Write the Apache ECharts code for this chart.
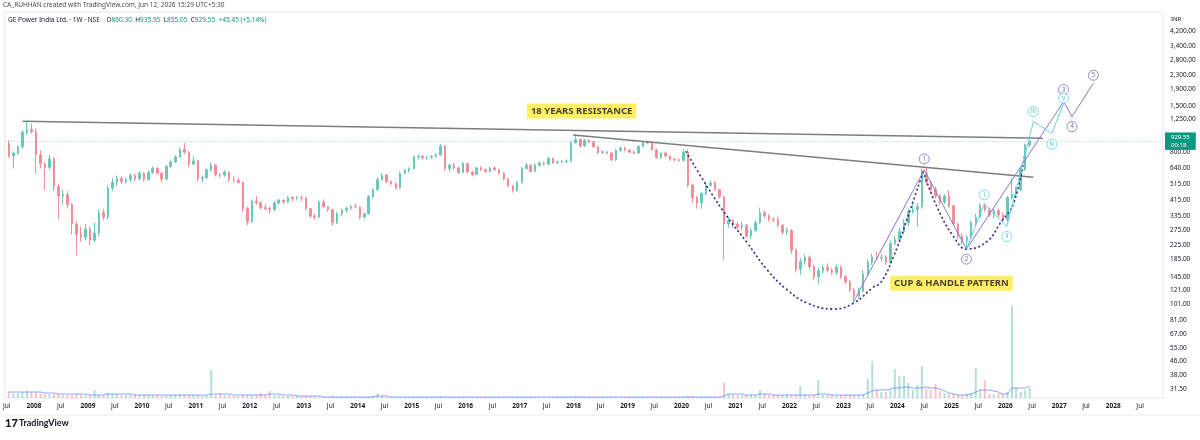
<!DOCTYPE html>
<html><head><meta charset="utf-8">
<script src="https://cdn.jsdelivr.net/npm/echarts@6/dist/echarts.min.js"></script>
<style>html,body{margin:0;padding:0;background:#fff}#c{width:1200px;height:440px}</style>
</head><body><div id="c"></div>
<script>
// ---- Monthly OHLC (INR) ----
const months = [
'2007-07','2007-08','2007-09','2007-10','2007-11','2007-12',
'2008-01','2008-02','2008-03','2008-04','2008-05','2008-06','2008-07','2008-08','2008-09','2008-10','2008-11','2008-12',
'2009-01','2009-02','2009-03','2009-04','2009-05','2009-06','2009-07','2009-08','2009-09','2009-10','2009-11','2009-12',
'2010-01','2010-02','2010-03','2010-04','2010-05','2010-06','2010-07','2010-08','2010-09','2010-10','2010-11','2010-12',
'2011-01','2011-02','2011-03','2011-04','2011-05','2011-06','2011-07','2011-08','2011-09','2011-10','2011-11','2011-12',
'2012-01','2012-02','2012-03','2012-04','2012-05','2012-06','2012-07','2012-08','2012-09','2012-10','2012-11','2012-12',
'2013-01','2013-02','2013-03','2013-04','2013-05','2013-06','2013-07','2013-08','2013-09','2013-10','2013-11','2013-12',
'2014-01','2014-02','2014-03','2014-04','2014-05','2014-06','2014-07','2014-08','2014-09','2014-10','2014-11','2014-12',
'2015-01','2015-02','2015-03','2015-04','2015-05','2015-06','2015-07','2015-08','2015-09','2015-10','2015-11','2015-12',
'2016-01','2016-02','2016-03','2016-04','2016-05','2016-06','2016-07','2016-08','2016-09','2016-10','2016-11','2016-12',
'2017-01','2017-02','2017-03','2017-04','2017-05','2017-06','2017-07','2017-08','2017-09','2017-10','2017-11','2017-12',
'2018-01','2018-02','2018-03','2018-04','2018-05','2018-06','2018-07','2018-08','2018-09','2018-10','2018-11','2018-12',
'2019-01','2019-02','2019-03','2019-04','2019-05','2019-06','2019-07','2019-08','2019-09','2019-10','2019-11','2019-12',
'2020-01','2020-02','2020-03','2020-04','2020-05','2020-06','2020-07','2020-08','2020-09','2020-10','2020-11','2020-12',
'2021-01','2021-02','2021-03','2021-04','2021-05','2021-06','2021-07','2021-08','2021-09','2021-10','2021-11','2021-12',
'2022-01','2022-02','2022-03','2022-04','2022-05','2022-06','2022-07','2022-08','2022-09','2022-10','2022-11','2022-12',
'2023-01','2023-02','2023-03','2023-04','2023-05','2023-06','2023-07','2023-08','2023-09','2023-10','2023-11','2023-12',
'2024-01','2024-02','2024-03','2024-04','2024-05','2024-06','2024-07','2024-08','2024-09','2024-10','2024-11','2024-12',
'2025-01','2025-02','2025-03','2025-04','2025-05','2025-06','2025-07','2025-08','2025-09','2025-10','2025-11','2025-12',
'2026-01','2026-02','2026-03','2026-04','2026-05','2026-06'
];
const open = [
900,760,790,860,1050,1090,
1060,770,680,650,730,500,440,450,390,300,260,250,
280,240,265,350,330,490,530,560,535,550,580,555,
600,550,605,640,600,555,660,700,750,830,800,680,
710,560,565,630,670,590,585,610,550,545,530,370,
310,410,400,375,370,365,400,415,405,430,425,430,
428,370,335,330,405,380,365,305,345,362,372,380,
378,330,345,435,480,550,585,535,520,490,600,625,
640,750,755,740,745,755,770,870,640,670,645,605,
685,610,590,645,630,615,645,630,600,555,505,475,
530,640,670,615,670,690,680,735,695,700,705,710,
910,950,870,940,920,860,795,805,790,720,820,845,
825,800,790,865,920,905,825,745,790,760,725,720,
715,800,510,430,400,455,510,525,480,435,300,315,
300,288,295,255,275,305,350,335,320,318,295,268,
275,210,162,180,190,168,146,158,166,160,155,166,
146,136,122,112,120,152,178,192,188,190,178,230,
242,270,305,355,365,380,600,530,480,440,405,440,
385,300,255,240,250,305,330,385,365,340,360,340,
320,430,450,480,630,884.1
];
const high = [
940,810,880,1080,1220,1180,
1100,820,700,770,750,520,480,470,400,310,290,300,
290,305,365,370,510,560,580,575,565,600,595,615,
610,625,660,650,610,670,715,770,845,910,810,750,
720,580,640,690,680,600,625,615,575,560,535,380,
420,440,410,395,380,410,425,420,440,440,440,445,
435,375,345,415,420,385,370,355,370,380,390,395,
380,350,445,490,570,600,595,545,530,615,640,650,
765,775,770,760,770,790,895,880,685,690,655,700,
690,620,655,660,640,655,660,640,610,565,510,540,
655,690,680,685,705,705,750,745,715,720,725,930,
1020,965,960,955,935,870,820,815,800,835,865,860,
835,815,880,935,940,915,835,800,805,770,740,735,
835,830,520,440,465,525,545,540,485,440,330,320,
310,310,300,285,315,375,360,345,330,330,300,285,
280,215,188,198,195,172,165,172,175,165,172,170,
150,140,125,125,160,185,200,205,200,195,240,255,
285,320,370,395,400,640,650,545,500,450,450,475,
390,305,265,260,315,345,400,400,375,370,370,350,
440,560,500,650,900,935.95
];
const low = [
740,640,770,840,1010,1030,
600,640,480,630,470,320,390,370,260,195,235,240,
225,235,255,315,320,470,500,515,520,530,535,545,
535,540,595,590,530,545,645,690,740,780,650,670,
540,530,555,615,575,565,570,535,530,520,355,295,
305,390,365,360,345,358,390,395,400,410,415,410,
360,325,320,325,375,355,292,300,335,350,365,370,
320,322,340,425,470,540,525,510,480,485,590,605,
630,725,725,720,730,740,760,620,615,630,595,600,
600,575,585,620,600,605,620,590,545,495,460,465,
520,630,605,610,655,665,665,680,680,685,690,700,
900,850,860,905,850,780,780,775,705,710,805,810,
790,775,785,855,890,815,730,730,745,710,705,700,
705,495,400,370,370,445,500,470,425,184,285,285,
280,275,248,245,270,300,325,310,308,288,260,258,
200,155,150,172,160,140,132,152,155,150,150,142,
132,118,102,108,118,148,172,182,180,172,175,225,
235,260,290,345,290,370,510,465,425,390,395,375,
295,245,225,212,245,295,325,355,330,325,330,305,
310,420,430,470,620,855.05
];
const close = [
760,790,860,1050,1090,1060,
770,680,650,730,500,440,450,390,300,260,250,280,
240,265,350,330,490,530,560,535,550,580,555,600,
550,605,640,600,555,660,700,750,830,800,680,710,
560,565,630,670,590,585,610,550,545,530,370,310,
410,400,375,370,365,400,415,405,430,425,430,428,
370,335,330,405,380,365,305,345,362,372,380,378,
330,345,435,480,550,585,535,520,490,600,625,640,
750,755,740,745,755,770,870,640,670,645,605,685,
610,590,645,630,615,645,630,600,555,505,475,530,
640,670,615,670,690,680,735,695,700,705,710,910,
950,870,940,920,860,795,805,790,720,820,845,825,
800,790,865,920,905,825,745,790,760,725,720,715,
800,510,430,400,455,510,525,480,435,300,315,300,
288,295,255,275,305,350,335,320,318,295,268,275,
210,162,180,190,168,146,158,166,160,155,166,146,
136,122,112,120,152,178,192,188,190,178,230,242,
270,305,355,365,380,600,530,480,440,405,440,385,
300,255,240,250,305,330,385,365,340,360,340,320,
430,450,480,630,884.1,929.55
];
// relative volume (estimated bar heights) and its moving-average line
const volume = [
6,5,5,6,7,6,
6,5,4,4,4,4,3,3,3,4,3,3,
3,8,3,3,5,4,4,3,3,3,3,3,
3,3,3,3,2,3,3,3,4,3,3,3,
3,2,3,28,3,5,3,3,2,2,3,3,
3,3,5,3,7,3,3,2,2,2,2,2,
2,2,2,1,1,1,2,1,1,1,1,1,
1,1,1,2,5,2,1,1,1,1,1,1,
1,1,1,1,1,1,2,1,1,1,1,1,
1,1,1,1,1,1,1,1,1,1,1,1,
1,1,1,1,1,1,1,1,1,1,1,1,
2,1,1,1,1,1,1,1,1,1,1,1,
1,1,1,1,1,1,1,1,1,1,1,1,
1,2,2,1,1,1,1,1,1,15,4,3,
3,3,3,3,3,8,4,3,3,3,3,3,
3,3,12,3,3,3,18,3,3,3,3,3,
3,3,3,3,4,19,37,8,6,6,8,29,
22,22,15,8,13,32,9,8,14,7,5,4,
4,3,3,4,5,30,8,18,4,4,5,4,
6,92,10,6,8,10
];
const volumeMA = [
6,6,6,6,6,6,
6,6,5,5,5,4,4,4,4,4,4,4,
3,3,3,3,4,4,4,4,4,4,3,3,
3,3,3,3,3,3,3,3,3,3,3,3,
3,3,3,4,4,4,4,4,3,3,3,3,
3,3,3,3,4,4,4,3,3,3,2,2,
2,2,2,2,1,1,1,1,1,1,1,1,
1,1,1,1,2,2,2,1,1,1,1,1,
1,1,1,1,1,1,1,1,1,1,1,1,
1,1,1,1,1,1,1,1,1,1,1,1,
1,1,1,1,1,1,1,1,1,1,1,1,
1,1,1,1,1,1,1,1,1,1,1,1,
1,1,1,1,1,1,1,1,1,1,1,1,
1,1,1,1,1,1,1,1,1,2,4,4,
4,4,3,3,3,4,4,4,3,3,3,3,
3,3,3,3,3,3,4,4,4,3,3,3,
3,3,3,3,3,5,7,8,8,8,9,10,
10,11,11,10,10,10,11,10,10,9,7,5,
4,3,3,3,4,6,8,8,8,7,6,4,
4,10,10,10,10,12
];
// weekly legend values
const lastWeek = {open: 860.30, high: 935.95, low: 855.05, close: 929.55, change: 45.45, pct: 5.14};

// axis ticks
const priceTicks = [4200,3400,2800,2300,1900,1500,1250,1000,800,640,515,415,335,275,225,185,145,121,101,81,67,55,46,38,31.5];
const timeTicks = ['2007-07-01',
'2008-01-01','2008-07-01','2009-01-01','2009-07-01','2010-01-01','2010-07-01','2011-01-01','2011-07-01',
'2012-01-01','2012-07-01','2013-01-01','2013-07-01','2014-01-01','2014-07-01','2015-01-01','2015-07-01',
'2016-01-01','2016-07-01','2017-01-01','2017-07-01','2018-01-01','2018-07-01','2019-01-01','2019-07-01',
'2020-01-01','2020-07-01','2021-01-01','2021-07-01','2022-01-01','2022-07-01','2023-01-01','2023-07-01',
'2024-01-01','2024-07-01','2025-01-01','2025-07-01','2026-01-01','2026-07-01','2027-01-01','2027-07-01',
'2028-01-01','2028-07-01'];

// drawings (date, price)
const resistanceLine = [['2007-10-15',1220],['2026-09-12',968]];
const trendLine = [['2017-12-28',1012],['2026-07-09',568]];
const cupCurve = [['2020-02-02',803],['2020-06-24',498],['2020-11-06',331],['2021-03-21',232],['2021-08-04',160],
  ['2021-12-17',122],['2022-05-01',102],['2022-10-27',94],['2023-03-11',102],['2023-07-24',127],['2023-09-09',134],
  ['2023-12-06',192],['2024-03-28',364],['2024-06-24',613]];
const handleCurve = [['2024-06-24',613],['2024-09-25',380],['2025-01-15',253],['2025-04-16',213],['2025-08-29',236],
  ['2025-11-27',303],['2026-02-26',399],['2026-05-10',760]];
const majorWave = [['2023-03-11',104],['2024-07-01',628],['2025-04-13',213],['2027-01-30',1594],['2027-03-28',1300],['2027-08-20',2049]];
const majorWaveNames = ['1','2','3','4','5'];
const minorWave = [['2025-04-13',213],['2025-08-11',395],['2026-01-11',290],['2026-07-10',1214],['2026-11-12',1036],['2027-01-30',1560]];
const minorWaveNames = ['i','ii','iii','iv','v'];
const notes = [
  {text: '18 YEARS RESISTANCE', at: ['2018-02-24', 1405]},
  {text: 'CUP & HANDLE PATTERN', at: ['2025-01-01', 133.5]}
];

// ---- styles ----
const UP = '#6cc8b9', DOWN = '#f38d98';
const FONT = '"Noto Sans", Roboto, sans-serif';
const majorOffsets = [-11, 10, -12, 10, -8];
const minorOffsets = [-9, 10, -10, 11, -5];

const ts = s => Date.parse(s);
const candleData = months.map((m, i) => [ts(m + '-15'), open[i], close[i], low[i], high[i]]);
const volData = months.map((m, i) => ({
  value: [ts(m + '-15'), volume[i]],
  itemStyle: {color: close[i] >= open[i] ? 'rgba(8,153,129,0.3)' : 'rgba(242,54,69,0.3)'}
}));
const volMAData = months.map((m, i) => [ts(m + '-15'), volumeMA[i]]);
const pts = arr => arr.map(p => [ts(p[0]), p[1]]);
const lastClose = close[close.length - 1];

function waveLabels(wave, names, offsets, color, border) {
  return wave.slice(1).map((p, i) => ({
    value: [ts(p[0]), p[1]],
    symbolOffset: [0, offsets[i]],
    label: {show: true, position: 'inside', formatter: names[i], color: color, fontSize: 6.5, fontFamily: FONT},
    itemStyle: {color: '#fff', borderColor: border, borderWidth: 1}
  }));
}

const chart = echarts.init(document.getElementById('c'), null, {renderer: 'canvas'});
const fmtPrice = v => Number(v).toLocaleString('en-US', {minimumFractionDigits: 2, maximumFractionDigits: 2});

chart.setOption({
  animation: false,
  backgroundColor: '#fff',
  textStyle: {fontFamily: FONT},
  grid: {left: 4, right: 37, top: 12, bottom: 42, show: true, borderColor: '#e6e8ee', borderWidth: 1},
  xAxis: {
    type: 'value',
    min: ts('2007-06-18'), max: ts('2028-12-03'),
    splitLine: {show: false},
    axisLine: {show: false},
    axisTick: {show: false},
    axisLabel: {
      customValues: timeTicks.map(ts),
      margin: 5,
      fontSize: 6.5,
      color: '#131722',
      formatter: v => {
        const d = new Date(v);
        return d.getUTCMonth() === 0 ? '{y|' + d.getUTCFullYear() + '}' : '{m|Jul}';
      },
      rich: {
        y: {fontSize: 6.5, fontWeight: 'bold', color: '#131722', fontFamily: FONT},
        m: {fontSize: 6.5, color: '#131722', fontFamily: FONT}
      }
    }
  },
  yAxis: [{
    type: 'log',
    position: 'right',
    min: 27.9, max: 5420,
    splitLine: {show: false},
    axisLine: {show: false},
    axisTick: {show: false},
    axisLabel: {
      customValues: priceTicks,
      margin: 7,
      fontSize: 6.5,
      color: '#131722',
      formatter: fmtPrice
    }
  }, {
    type: 'value', min: 0, max: 386, show: false
  }],
  series: [
    {
      type: 'bar', name: 'Volume', xAxisIndex: 0, yAxisIndex: 1,
      data: volData, barWidth: 2, z: 1, silent: true
    },
    {
      type: 'line', name: 'Volume MA', yAxisIndex: 1, data: volMAData,
      showSymbol: false, lineStyle: {color: 'rgba(41,98,255,0.55)', width: 1}, z: 2, silent: true
    },
    {
      type: 'candlestick', name: 'GE Power India', yAxisIndex: 0,
      data: candleData,
      encode: {x: 0, y: [1, 2, 3, 4]},
      barMaxWidth: 2,
      itemStyle: {color: UP, color0: DOWN, borderColor: UP, borderColor0: DOWN, borderWidth: 1},
      z: 3,
      markLine: {
        symbol: ['none', 'none'], silent: true, animation: false,
        data: [{yAxis: lastClose}],
        lineStyle: {type: [1, 2], color: 'rgba(8,153,129,0.4)', width: 1, opacity: 1},
        label: {
          show: true, position: 'end', distance: 2,
          formatter: lastClose.toFixed(2) + '\n00:18',
          backgroundColor: '#089981', color: '#ffffff', fontSize: 6, lineHeight: 7.5,
          padding: [1.5, 6, 1, 6], fontFamily: FONT, opacity: 1
        }
      }
    },
    {
      type: 'line', data: pts(resistanceLine), showSymbol: false, z: 5, silent: true,
      lineStyle: {color: '#7d7d7d', width: 1.5}
    },
    {
      type: 'line', data: pts(trendLine), showSymbol: false, z: 5, silent: true,
      lineStyle: {color: '#7d7d7d', width: 1.5}
    },
    {
      type: 'line', data: pts(cupCurve), showSymbol: false, smooth: 0.45, z: 5, silent: true,
      lineStyle: {color: '#3d3389', width: 1.8, type: [0.5, 4], cap: 'round'}
    },
    {
      type: 'line', data: pts(handleCurve), showSymbol: false, smooth: 0.45, z: 5, silent: true,
      lineStyle: {color: '#3d3389', width: 1.8, type: [0.5, 4], cap: 'round'}
    },
    {
      type: 'line', data: pts(majorWave), showSymbol: false, z: 6, silent: true,
      lineStyle: {color: '#8a78d0', width: 1}
    },
    {
      type: 'line', data: pts(minorWave), showSymbol: false, z: 6, silent: true,
      lineStyle: {color: '#5fd3e3', width: 1}
    },
    {
      type: 'scatter', symbol: 'circle', symbolSize: 10, z: 7, silent: true,
      data: waveLabels(majorWave, majorWaveNames, majorOffsets, '#5a4aa6', '#7d6cc8')
    },
    {
      type: 'scatter', symbol: 'circle', symbolSize: 10, z: 7, silent: true,
      data: waveLabels(minorWave, minorWaveNames, minorOffsets, '#2fb4c6', '#5fd3e3')
    },
    {
      type: 'scatter', symbol: 'circle', symbolSize: 0.1, z: 8, silent: true,
      itemStyle: {color: 'transparent'},
      data: notes.map(n => ({
        value: [ts(n.at[0]), n.at[1]],
        label: {show: true, position: 'inside', formatter: n.text, backgroundColor: '#ffeb3b',
          color: '#131722', fontWeight: 'bold', fontSize: 9.5, padding: [3, 4, 2, 4], fontFamily: FONT}
      }))
    }
  ],
  graphic: [
    {type: 'text', left: 3, top: 2, style: {text: 'CA_RUHHAN created with TradingView.com, Jun 12, 2026 15:29 UTC+5:30', fill: '#4a4a4a', font: '6.5px ' + FONT}},
    {type: 'text', left: 8, top: 14, style: {
      text: '{n|GE Power India Ltd. · 1W · NSE}  {k|O}{v|' + lastWeek.open.toFixed(2) + '} {k|H}{v|' + lastWeek.high.toFixed(2) +
        '} {k|L}{v|' + lastWeek.low.toFixed(2) + '} {k|C}{v|' + lastWeek.close.toFixed(2) + '} {v|+' + lastWeek.change.toFixed(2) +
        ' (+' + lastWeek.pct.toFixed(2) + '%)}',
      rich: {
        n: {fill: '#131722', fontSize: 6.5, fontFamily: FONT},
        k: {fill: '#131722', fontSize: 6.5, fontFamily: FONT},
        v: {fill: '#089981', fontSize: 6.5, fontFamily: FONT}
      }
    }},
    {type: 'text', left: 1171, top: 16, style: {text: 'INR', fill: '#131722', font: '6px ' + FONT}},
    {type: 'line', shape: {x1: 0, y1: 415, x2: 1200, y2: 415}, style: {stroke: '#eceef2', lineWidth: 1}},
    {type: 'text', left: 5, top: 418, style: {text: '17', fill: '#131722', font: '900 11px Lato, ' + FONT}},
    {type: 'text', left: 19, top: 419, style: {text: 'TradingView', fill: '#131722', font: 'bold 9px Lato, ' + FONT}}
  ]
});
</script>
</body></html>
